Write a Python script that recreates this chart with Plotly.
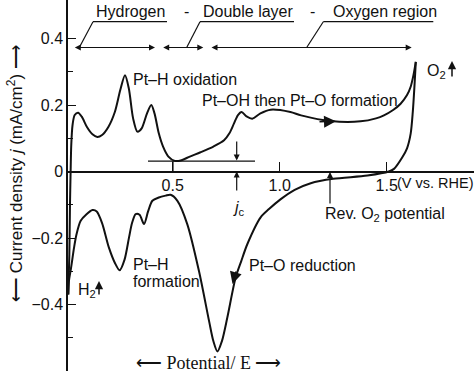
import plotly.graph_objects as go

# ---- data ----
V_anodic = [0.012, 0.017, 0.020, 0.023, 0.026, 0.032, 0.042, 0.058, 0.075, 0.10, 0.125, 0.148,
            0.17, 0.20, 0.23, 0.255, 0.277, 0.295, 0.315, 0.335, 0.355, 0.38, 0.40, 0.415,
            0.435, 0.455, 0.48, 0.51, 0.537, 0.58, 0.63, 0.69, 0.74, 0.765, 0.786, 0.805,
            0.822, 0.845, 0.872, 0.91, 0.958, 1.05, 1.10, 1.238, 1.378, 1.45, 1.487, 1.53,
            1.565, 1.595, 1.612, 1.625, 1.636]
j_anodic = [-0.37, -0.25, -0.10, 0.00, 0.08, 0.14, 0.170, 0.177, 0.165, 0.133, 0.112, 0.104,
            0.11, 0.135, 0.18, 0.245, 0.29, 0.25, 0.16, 0.12, 0.13, 0.175, 0.20, 0.175,
            0.115, 0.075, 0.045, 0.032, 0.033, 0.045, 0.058, 0.075, 0.094, 0.115, 0.144, 0.170,
            0.179, 0.166, 0.159, 0.175, 0.186, 0.179, 0.169, 0.152, 0.151, 0.16, 0.169, 0.185,
            0.204, 0.23, 0.255, 0.29, 0.33]

V_cathodic = [1.636, 1.630, 1.622, 1.612, 1.595, 1.573, 1.534, 1.51, 1.41, 1.25, 1.145, 1.07,
              1.005, 0.95, 0.911, 0.849, 0.82, 0.794, 0.755, 0.73, 0.709, 0.69, 0.67, 0.623,
              0.568, 0.522, 0.49, 0.467, 0.435, 0.405, 0.385, 0.366, 0.345, 0.327, 0.31, 0.296,
              0.275, 0.252, 0.23, 0.202, 0.17, 0.145, 0.125, 0.095, 0.07, 0.05, 0.039, 0.025,
              0.015, 0.012]
j_cathodic = [0.33, 0.26, 0.18, 0.114, 0.07, 0.043, 0.008, 0.0, -0.012, -0.022, -0.035, -0.055,
              -0.083, -0.113, -0.138, -0.218, -0.27, -0.319, -0.44, -0.51, -0.541, -0.51, -0.45, -0.30,
              -0.158, -0.088, -0.070, -0.0725, -0.078, -0.088, -0.12, -0.158, -0.13, -0.128, -0.155, -0.198,
              -0.265, -0.297, -0.275, -0.229, -0.155, -0.12, -0.116, -0.13, -0.148, -0.19, -0.229, -0.29,
              -0.33, -0.37]

y_tick_vals = [-0.6, -0.4, -0.2, 0, 0.2, 0.4]
y_tick_text = ["\u22120.6", "\u22120.4", "\u22120.2", "0", "0.2", "0.4"]
y_minor_vals = [-0.5, -0.3, -0.1, 0.1, 0.3]
x_tick_vals = [0.5, 1.0, 1.5]
x_tick_text = ["0.5", "1.0", "1.5"]

# ---- geometry helpers (pixel -> data) ----
W, H = 474, 376
ML, MB = 68, 5
X0, XPX = 65.7, 214.0
Y0, YPX = 171.5, 332.4


def X(px):
    return (px - X0) / XPX


def Y(py):
    return (Y0 - py) / YPX


SANS = "Liberation Sans, Arial, sans-serif"
SERIF = "Liberation Serif, Times New Roman, serif"
BLACK = "#111111"

fig = go.Figure()
fig.add_trace(go.Scatter(x=V_anodic, y=j_anodic, mode="lines",
                         line=dict(color=BLACK, width=2, shape="spline", smoothing=0.8),
                         hoverinfo="skip", showlegend=False))
fig.add_trace(go.Scatter(x=V_cathodic, y=j_cathodic, mode="lines",
                         line=dict(color=BLACK, width=2, shape="spline", smoothing=0.8),
                         hoverinfo="skip", showlegend=False))

ann = []


def text(s, px, py, size=16, xanchor="left", font=SANS, **kw):
    ann.append(dict(text=s, x=X(px), y=Y(py), xref="x", yref="y", showarrow=False,
                    xanchor=xanchor, yanchor="middle",
                    font=dict(family=font, size=size, color=BLACK), **kw))


def arrow(x1, y1, x0, y0, both=False, size=1.0, width=1.2, head=2):
    d = dict(text="", x=X(x1), y=Y(y1), ax=X(x0), ay=Y(y0), xref="x", yref="y",
             axref="x", ayref="y", showarrow=True, arrowhead=head, arrowsize=size,
             arrowwidth=width, arrowcolor=BLACK, standoff=0, startstandoff=0)
    if both:
        d["arrowside"] = "end+start"
        d["startarrowhead"] = head
        d["startarrowsize"] = size
    ann.append(d)


# region labels on top
text("Hydrogen", 130, 11, xanchor="center")
text("-", 186, 11, xanchor="center")
text("Double layer", 248.5, 11, xanchor="center")
text("-", 312, 11, xanchor="center")
text("Oxygen region", 385, 11, xanchor="center")

# double-headed region arrows
arrow(155, 47.5, 73.3, 47.5, both=True)
arrow(203.3, 47.5, 161.7, 47.5, both=True)
arrow(411.7, 47.5, 210, 47.5, both=True)

shapes = []


def seg(x0, y0, x1, y1, w=1.2):
    shapes.append(dict(type="line", x0=X(x0), y0=Y(y0), x1=X(x1), y1=Y(y1),
                       xref="x", yref="y", line=dict(color=BLACK, width=w)))


# underlines with leaders
seg(93, 21.7, 167, 21.7)
seg(93, 21.7, 79.3, 47.5)
seg(200, 21.7, 294, 21.7)
seg(200, 21.7, 186.7, 47.5)
seg(323.3, 21.7, 433.3, 21.7)
seg(323.3, 21.7, 306.7, 47.5)

# j_c baseline
seg(148, 161, 255, 161)
seg(173, 161, 173, 171.5)
arrow(236.7, 160.5, 236.7, 140)
arrow(236.7, 171.5, 236.7, 192)
text("<i>j</i><sub>c</sub>", 238.5, 208, xanchor="center")

# Reversible O2 potential
arrow(330, 172, 330, 205)
text("Rev. O<sub>2</sub> potential", 323, 214)

# curve direction arrows
arrow(336, 121.2, 318, 121.8, size=1.6, width=1.5)
arrow(232.5, 284, 236.5, 270, size=1.6, width=1.5)

# gas evolution arrows
text("O<sub>2</sub>", 425, 71)
arrow(452, 61, 452, 78, size=1.1, width=1.5)
text("H<sub>2</sub>", 76, 290)
arrow(99, 281, 99, 296, size=1.1, width=1.5)

# annotations of processes
text("Pt\u2013H oxidation", 131, 79)
text("Pt\u2013OH then Pt\u2013O formation", 200, 100)
text("Pt\u2013O reduction", 247, 265)
text("Pt\u2013H", 131, 264)
text("formation", 131, 281)
text("(V vs. RHE)", 395, 183, size=14.5)
text("\u27f5 Potential/ E \u27f6", 209, 363, size=18, xanchor="center", font=SERIF)

# y axis title
ann.append(dict(text="\u27f5 Current density <i>j</i> (mA/cm<sup>2</sup>) \u27f6",
                x=(15 - ML) / (W - ML), xref="paper", y=Y(174), yref="y",
                textangle=-90, showarrow=False, xanchor="center", yanchor="middle",
                font=dict(family=SANS, size=17, color=BLACK)))

fig.update_layout(
    width=W, height=H,
    margin=dict(l=ML, r=0, t=0, b=MB, pad=0),
    paper_bgcolor="white", plot_bgcolor="white",
    annotations=ann, shapes=shapes,
    xaxis=dict(range=[X(68), X(474)], showgrid=False, zeroline=False, showline=True,
               linecolor=BLACK, linewidth=1.5, anchor="free", position=0.6 / 1.116,
               ticks="inside", ticklen=9, tickwidth=1.2, tickcolor=BLACK,
               tickvals=x_tick_vals, ticktext=x_tick_text,
               tickfont=dict(family=SANS, size=16, color=BLACK), fixedrange=True),
    yaxis=dict(range=[-0.6, 0.516], showgrid=False, zeroline=False, showline=True,
               linecolor=BLACK, linewidth=1.5,
               ticks="inside", ticklen=8, tickwidth=1.2, tickcolor=BLACK,
               tickvals=y_tick_vals, ticktext=y_tick_text,
               minor=dict(tickvals=y_minor_vals, ticks="inside", ticklen=5, tickwidth=1.2,
                          tickcolor=BLACK, showgrid=False),
               tickfont=dict(family=SANS, size=16, color=BLACK), fixedrange=True),
)

fig.write_html("out.html", config={"displayModeBar": False},
               post_script="document.body.style.margin='0';document.body.style.padding='0';"
                           "document.body.style.overflow='hidden';")
